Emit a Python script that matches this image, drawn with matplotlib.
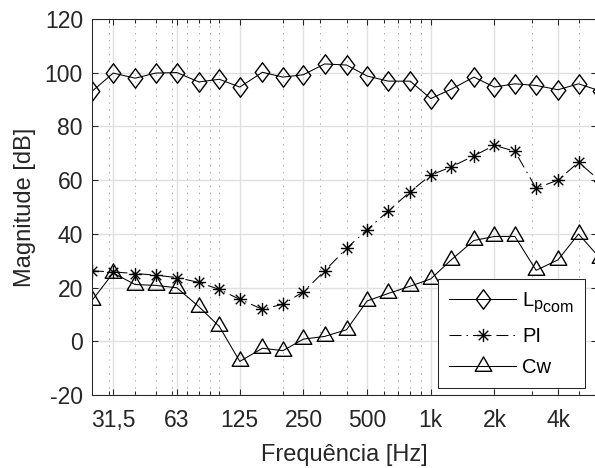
import matplotlib
matplotlib.use('Agg')
import matplotlib.pyplot as plt
from matplotlib.path import Path
import matplotlib._mathtext as mathtext_internals

# third-octave bands
freqs = [25, 31.5, 40, 50, 63, 80, 100, 125, 160, 200, 250, 315, 400, 500,
         630, 800, 1000, 1250, 1600, 2000, 2500, 3150, 4000, 5000, 6300]
lp_com = [93.0, 99.8, 97.9, 99.8, 100.0, 96.5, 97.5, 94.6, 100.1, 98.3, 99.2, 103.2,
          102.8, 98.7, 96.8, 96.8, 90.3, 93.8, 98.3, 94.6, 95.8, 95.2, 93.6, 95.8, 93.2]
pi_vals = [26.2, 25.8, 25.2, 24.6, 23.7, 21.9, 19.3, 15.6, 11.9, 13.8, 18.4, 26.2,
           34.6, 41.5, 48.5, 55.7, 61.8, 64.9, 69.0, 72.9, 70.7, 56.9, 60.0, 66.6, 59.8]
cw = [15.2, 25.4, 21.1, 20.8, 19.9, 12.9, 5.5, -7.5, -2.6, -3.5, 0.8, 1.8,
      4.3, 15.0, 17.8, 20.5, 23.2, 30.3, 37.5, 39.0, 39.0, 26.4, 30.3, 39.9, 31.0]

tick_freqs = [31.5, 63, 125, 250, 500, 1000, 2000, 4000]
tick_labels = ['31,5', '63', '125', '250', '500', '1k', '2k', '4k']
minor_freqs = [20, 30, 40, 50, 60, 70, 80, 90,
               100, 200, 300, 400, 500, 600, 700, 800, 900,
               1000, 2000, 3000, 4000, 5000, 6000, 7000, 8000, 9000]
y_ticks = [-20, 0, 20, 40, 60, 80, 100, 120]

plt.rcParams['font.family'] = ['Liberation Sans', 'DejaVu Sans']
plt.rcParams['mathtext.fontset'] = 'custom'
plt.rcParams['mathtext.rm'] = 'Liberation Sans'
plt.rcParams['mathtext.it'] = 'Liberation Sans'
plt.rcParams['lines.scale_dashes'] = False
plt.rcParams['axes.unicode_minus'] = False
# nested subscripts (p_com) keep the first-level size, like MATLAB's TeX
mathtext_internals.NUM_SIZE_LEVELS = 2
mathtext_internals.SHRINK_FACTOR = 0.8

# MATLAB-like markers
diamond = Path([(0, 1), (0.75, 0), (0, -1), (-0.75, 0), (0, 1)], closed=True)
asterisk = Path([(-1, 0), (1, 0), (0, -1), (0, 1),
                 (-0.72, -0.72), (0.72, 0.72), (-0.72, 0.72), (0.72, -0.72)],
                [Path.MOVETO, Path.LINETO] * 4)
triangle = Path([(0, 1), (-0.866, -0.5), (0.866, -0.5), (0, 1)], closed=True)

dark = '#262626'

fig = plt.figure(figsize=(5.95, 4.68), dpi=100)
ax = fig.add_axes([92.0 / 595, 1 - 395.0 / 468, (596.5 - 92.0) / 595, (395.0 - 18.8) / 468])

ax.plot(freqs, lp_com, color='black', lw=0.75, marker=diamond, ms=14, mfc='none',
        mec='black', mew=1.0, label=r'$\mathregular{L_{p_{com}}}$')
ax.plot(freqs, pi_vals, color='black', lw=0.75, ls=(0, (8.6, 3.6, 1.1, 3.6)),
        marker=asterisk, ms=9.5, mfc='none', mec='black', mew=1.0, label='PI')
ax.plot(freqs, cw, color='black', lw=0.75, marker=triangle, ms=13.8, mfc='none',
        mec='black', mew=1.0, label='Cw')

ax.set_xscale('log')
ax.set_xticks(tick_freqs)
ax.set_xticklabels(tick_labels)
ax.set_xticks(minor_freqs, minor=True)
ax.set_xticklabels([], minor=True)
ax.set_yticks(y_ticks)
ax.set_xlim(25, 6080)
ax.set_ylim(-20, 120)

ax.grid(True, which='major', color='#e0e0e0', lw=1.0, ls='-')
ax.grid(True, which='minor', axis='x', color='#a8a8a8', lw=0.7, ls=(0, (1, 4)))
ax.set_axisbelow(True)

ax.tick_params(which='both', direction='in', top=True, right=True, colors=dark,
               labelsize=16.5, width=0.75)
ax.tick_params(which='major', length=4.5)
ax.tick_params(which='minor', length=3)
ax.tick_params(axis='x', which='major', pad=10)
ax.tick_params(axis='y', which='major', pad=6.5)
for s in ax.spines.values():
    s.set_color(dark)
    s.set_linewidth(0.75)

ax.set_xlabel('Frequência [Hz]', fontsize=17, color=dark, labelpad=9)
ax.set_ylabel('Magnitude [dB]', fontsize=17, color=dark, labelpad=6)

leg = ax.legend(loc='lower right', bbox_to_anchor=(585.0 / 595, 1 - 388.3 / 468),
                bbox_transform=fig.transFigure, borderaxespad=0, fontsize=14.5,
                handlelength=3.3, handletextpad=0.3, borderpad=0.55, labelspacing=0.6,
                fancybox=False, framealpha=1)
leg.get_frame().set_edgecolor(dark)
leg.get_frame().set_linewidth(0.75)

fig.savefig('out.png', dpi=100)
